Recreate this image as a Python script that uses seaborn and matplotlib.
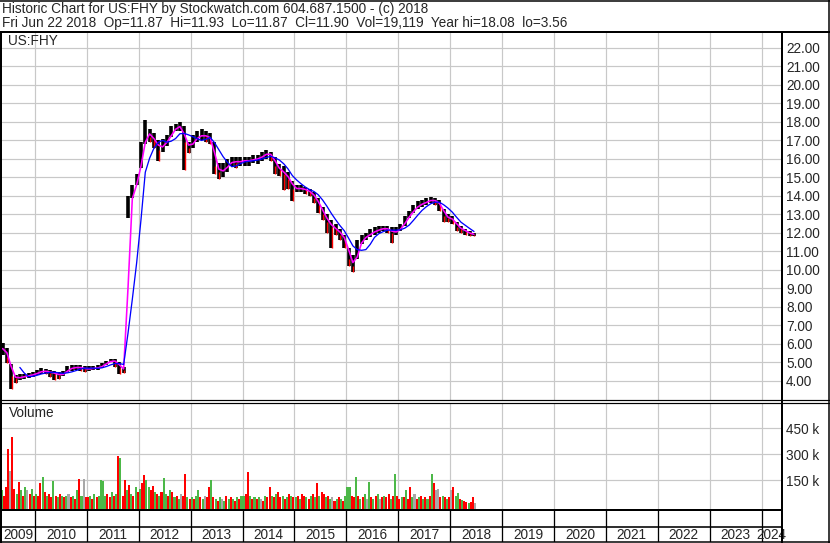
import numpy as np
import pandas as pd
import matplotlib
matplotlib.use("Agg")
import matplotlib.pyplot as plt
import seaborn as sns

# === 1. Dane (miesięcznie od maja 2009 do czerwca 2018) ===
first_year = 2009
first_month = 5

close = [
    5.75, 5.30, 4.25, 4.15, 4.20, 4.25, 4.30, 4.35,                          # 2009
    4.45, 4.55, 4.50, 4.45, 4.40, 4.30, 4.40, 4.65, 4.70, 4.75, 4.70, 4.65,  # 2010
    4.65, 4.70, 4.70, 4.85, 5.00, 5.10, 5.05, 4.70, 4.60, 13.40, 14.30, 14.90,  # 2011
    16.3, 17.5, 17.2, 17.0, 16.5, 16.8, 17.0, 17.5, 17.7, 17.8, 16.9, 16.6,  # 2012
    17.0, 17.2, 17.3, 17.2, 17.1, 15.6, 15.3, 15.4, 15.7, 15.9, 15.8, 15.9,  # 2013
    15.9, 15.9, 16.0, 16.0, 16.2, 16.3, 16.2, 15.6, 15.4, 15.2, 14.9, 14.4,  # 2014
    14.4, 14.4, 14.3, 14.2, 13.9, 13.5, 13.0, 12.6, 12.3, 12.2, 11.9, 11.6,  # 2015
    10.6, 10.2, 11.2, 11.7, 11.8, 12.0, 12.1, 12.2, 12.25, 12.2, 12.0, 12.1,  # 2016
    12.3, 12.7, 13.0, 13.3, 13.5, 13.6, 13.7, 13.8, 13.7, 13.5, 12.9, 12.8,  # 2017
    12.7, 12.3, 12.2, 12.05, 11.95, 11.90,                                   # 2018
]
high = [
    6.05, 5.80, 4.90, 4.30, 4.35, 4.40, 4.45, 4.50,
    4.60, 4.70, 4.65, 4.60, 4.55, 4.50, 4.55, 4.80, 4.85, 4.85, 4.85, 4.80,
    4.80, 4.80, 4.85, 4.95, 5.10, 5.20, 5.20, 5.00, 4.75, 14.00, 14.60, 15.20,
    16.9, 18.08, 17.6, 17.4, 17.0, 17.1, 17.3, 17.8, 17.9, 18.0, 17.8, 16.9,
    17.3, 17.5, 17.6, 17.5, 17.4, 16.9, 15.8, 15.8, 16.0, 16.1, 16.1, 16.1,
    16.1, 16.1, 16.2, 16.2, 16.4, 16.5, 16.4, 16.1, 15.7, 15.6, 15.3, 14.8,
    14.6, 14.6, 14.5, 14.4, 14.2, 13.9, 13.4, 13.0, 12.7, 12.5, 12.2, 11.9,
    11.2, 10.8, 11.6, 11.9, 12.0, 12.2, 12.3, 12.4, 12.4, 12.35, 12.3, 12.3,
    12.5, 12.9, 13.2, 13.5, 13.7, 13.8, 13.9, 13.95, 13.9, 13.8, 13.3, 13.0,
    12.9, 12.6, 12.35, 12.2, 12.1, 12.0,
]
low = [
    5.40, 4.95, 3.56, 3.90, 4.05, 4.10, 4.15, 4.20,
    4.30, 4.40, 4.35, 4.20, 4.05, 4.10, 4.25, 4.50, 4.55, 4.60, 4.55, 4.50,
    4.55, 4.60, 4.60, 4.70, 4.85, 5.00, 4.75, 4.40, 4.45, 12.80, 13.90, 14.60,
    15.5, 16.8, 16.9, 16.6, 15.9, 16.4, 16.7, 17.2, 17.5, 17.5, 15.4, 16.3,
    16.6, 16.9, 17.0, 16.9, 16.8, 15.2, 14.9, 15.0, 15.3, 15.6, 15.5, 15.6,
    15.6, 15.6, 15.8, 15.7, 15.9, 16.0, 15.9, 15.2, 15.1, 14.3, 14.4, 13.7,
    14.2, 14.2, 14.1, 14.0, 13.6, 13.1, 12.7, 12.0, 11.2, 11.9, 11.6, 11.2,
    10.2, 9.9, 10.6, 11.4, 11.6, 11.8, 11.9, 12.0, 12.1, 12.0, 11.45, 11.9,
    12.1, 12.4, 12.8, 13.1, 13.3, 13.4, 13.5, 13.6, 13.5, 13.2, 12.6, 12.6,
    12.5, 12.1, 12.0, 11.9, 11.85, 11.82,
]

# wolumen co pół miesiąca (tys. sztuk) i kierunek: r=spadek, g=wzrost, n=bez zmian
volume_k = [
    90, 60, 110, 330, 200, 400, 100, 70, 140, 90, 60, 110, 90, 70, 100, 60,
    70, 60, 134, 169, 80, 60, 70, 50, 146, 60, 50, 70, 60, 50, 60, 70, 50, 60, 40, 90, 158, 60, 158, 50,
    50, 60, 40, 70, 50, 60, 150, 145, 60, 70, 50, 80, 60, 70, 289, 280, 60, 150, 90, 120, 70, 60, 110, 80,
    100, 130, 179, 150, 110, 90, 115, 80, 70, 60, 80, 160, 70, 60, 90, 80, 50, 60, 40, 70, 60, 185, 50, 40,
    50, 40, 60, 90, 50, 40, 60, 50, 110, 150, 50, 40, 30, 50, 40, 30, 60, 40, 50, 40, 30, 50, 40, 60,
    60, 70, 198, 60, 40, 50, 40, 50, 40, 30, 60, 50, 110, 60, 50, 70, 80, 50, 60, 40, 50, 70, 60, 50,
    50, 60, 40, 70, 60, 50, 40, 60, 70, 50, 132, 60, 80, 70, 50, 60, 40, 50, 30, 40, 50, 40, 30, 60,
    107, 110, 60, 50, 167, 60, 40, 50, 70, 40, 140, 50, 40, 60, 70, 40, 50, 60, 50, 70, 40, 60, 185, 60,
    40, 50, 50, 92, 40, 107, 50, 70, 40, 50, 60, 40, 50, 40, 60, 185, 132, 92, 100, 50, 60, 50, 40, 50,
    92, 107, 60, 75, 40, 35, 30, 20, 15, 25, 51, 19,
]
volume_dir = (
    "grrrnrrgrgrgnrgr"
    "grrgrgrrgrgrgrgnrgrgrgnr"
    "rgrgrggggrrgrgrgrrgrgrgr"
    "grrggrrgrgrggrgrgrgnrrgr"
    "grggrgnrrgrgrgngrgrgrgrg"
    "grrgrgrgnrgrrgrgrrgrgrgr"
    "grgrrgrgrgrgrrgrgnrgrgrg"
    "ggrrgrgrgngrgrgnrgrrgrgr"
    "rgrgrrgnrgrgrgrgrnnrgrgr"
    "nrggrgrrgrrn"
)

grid_years = list(range(2010, 2025))
label_years = list(range(2009, 2025))
price_ticks = list(range(4, 23))
volume_ticks = [150000, 300000, 450000]

header1 = "Historic Chart for US:FHY by Stockwatch.com 604.687.1500 - (c) 2018"
header2 = ("Fri Jun 22 2018  Op=11.87  Hi=11.93  Lo=11.87  Cl=11.90  "
           "Vol=19,119  Year hi=18.08  lo=3.56")

# === 2. Przygotowanie ===
n = len(close)
months = np.arange(n) + first_month - 1
t_month = first_year + months / 12 + 1 / 24
df = pd.DataFrame({"t": t_month, "close": close, "high": high, "low": low})
df["ma_fast"] = df["close"].rolling(2, min_periods=1).mean()
df["ma_slow"] = df["close"].rolling(5).mean()
df["down"] = df["close"] < df["close"].shift(1)

t_half = first_year + (first_month - 1) / 12 + (np.arange(len(volume_k)) + 0.5) / 24
vol = np.array(volume_k) * 1000
dir_colors = {"r": "#ff0000", "g": "#4cb848", "n": "#a8a8a8"}
vol_colors = [dir_colors[c] for c in volume_dir]

# === 3. Rysunek ===
sns.set_style("white")
plt.rcParams["font.family"] = ["Liberation Sans", "DejaVu Sans"]
FS = 9.8

W, H = 830, 543
PX = 0.72  # 1 px w punktach przy dpi=100


def px_rect(x0, y0, x1, y1):
    return [x0 / W, 1 - y1 / H, (x1 - x0) / W, (y1 - y0) / H]


XMIN = 2010 + (2 - 35) / 51.9
XMAX = 2010 + (782 - 35) / 51.9
GRID = "#c8c8c8"

fig = plt.figure(figsize=(W / 100, H / 100), dpi=100)
fig.patch.set_facecolor("white")

# --- cena ---
ax = fig.add_axes(px_rect(2, 32, 782, 400))
ax.set_xlim(XMIN, XMAX)
ax.set_ylim(2.97, 22.86)
ax.set_xticks(grid_years)
ax.set_yticks(price_ticks)
ax.grid(True, color=GRID, lw=1.2 * PX)
ax.set_axisbelow(True)
ax.yaxis.tick_right()
ax.set_yticklabels([f"{v:.2f}" for v in price_ticks])
ax.tick_params(axis="y", length=0, pad=3, labelsize=FS)
ax.tick_params(axis="x", length=0, labelbottom=False)
for s in ax.spines.values():
    s.set_visible(False)

ax.vlines(df["t"], df["low"], df["high"], color="black", lw=3.6 * PX, zorder=2)
dn = df[df["down"]]
ax.vlines(dn["t"] + 0.006, dn["low"], dn["close"], color="#ff0000", lw=1.4 * PX, zorder=3)
sns.lineplot(data=df, x="t", y="ma_fast", color="#ff00ff", lw=1.6 * PX, ax=ax, zorder=4)
sns.lineplot(data=df, x="t", y="ma_slow", color="#0000ff", lw=1.3 * PX, ax=ax, zorder=5)
ax.set_xlabel("")
ax.set_ylabel("")

# --- wolumen ---
VBOT, VTOP = -21000, 597000
axv = fig.add_axes(px_rect(2, 403, 782, 509.5))
axv.set_xlim(XMIN, XMAX)
axv.set_ylim(VBOT, VTOP)
axv.set_xticks(grid_years)
axv.set_yticks(volume_ticks)
axv.set_yticklabels([f"{v // 1000} k" for v in volume_ticks])
axv.grid(True, color=GRID, lw=1.2 * PX)
axv.set_axisbelow(True)
axv.yaxis.tick_right()
axv.tick_params(axis="y", length=0, pad=3, labelsize=FS)
axv.tick_params(axis="x", length=0, labelbottom=False)
for s in axv.spines.values():
    s.set_visible(False)
axv.bar(t_half, vol - VBOT, bottom=VBOT, width=0.95 / 24, color=vol_colors, linewidth=0)

# --- pasek z latami ---
axy = fig.add_axes(px_rect(2, 509.5, 782, 541.7))
axy.set_xlim(XMIN, XMAX)
axy.set_ylim(0, 1)
axy.axis("off")
axy.vlines(grid_years, 0, 1, color="black", lw=1.3 * PX)
for y in label_years:
    x0, x1 = max(y, XMIN), min(y + 1, XMAX)
    axy.text((x0 + x1) / 2, 0.22, str(y), ha="center", va="center", fontsize=FS)

# --- ramki i napisy ---
ov = fig.add_axes([0, 0, 1, 1], zorder=10)
ov.set_xlim(0, W)
ov.set_ylim(H, 0)
ov.axis("off")
ov.patch.set_alpha(0)
line = dict(color="black", solid_capstyle="butt")
ov.plot([0, W], [0.7, 0.7], lw=1.5 * PX, **line)
ov.plot([0, W], [H - 1.3, H - 1.3], lw=1.5 * PX, **line)
ov.plot([0.8, 0.8], [31, H], lw=2 * PX, **line)
ov.plot([828.5, 828.5], [0, H], lw=1.5 * PX, **line)
ov.plot([0, W], [31.5, 31.5], lw=2 * PX, **line)
ov.plot([781.8, 781.8], [31, H], lw=2 * PX, **line)
ov.plot([0, W], [400.3, 400.3], lw=1.2 * PX, **line)
ov.plot([0, W], [402.8, 402.8], lw=1.2 * PX, **line)
ov.plot([0, 782], [509.8, 509.8], lw=2 * PX, **line)
ov.plot([0, 782], [526.8, 526.8], lw=1.6 * PX, **line)
ov.text(2, 8.5, header1, ha="left", va="center", fontsize=FS)
ov.text(2, 23.5, header2, ha="left", va="center", fontsize=FS)
ov.text(8, 41, "US:FHY", ha="left", va="center", fontsize=FS)
ov.text(9, 413, "Volume", ha="left", va="center", fontsize=FS)

fig.savefig("out.png", dpi=100)
